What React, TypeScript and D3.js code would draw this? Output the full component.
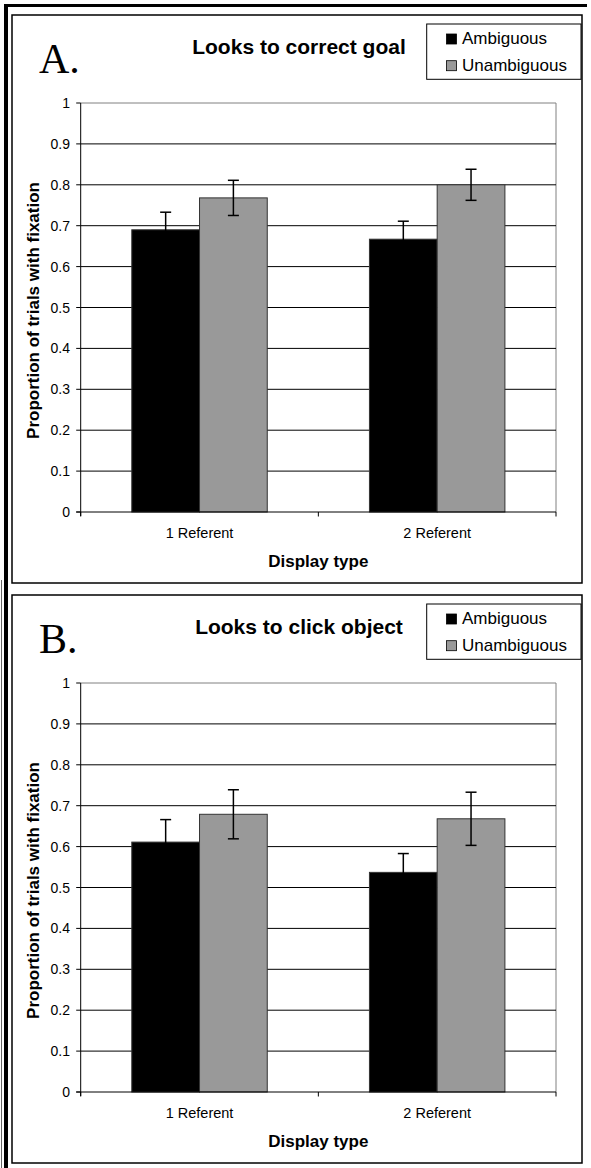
import React from "react";
import * as d3 from "d3";

const categories = ["1 Referent", "2 Referent"];
const seriesNames = ["Ambiguous", "Unambiguous"];
const seriesColors = ["#000000", "#999999"];
const yTicks = [0, 0.1, 0.2, 0.3, 0.4, 0.5, 0.6, 0.7, 0.8, 0.9, 1];

const panelLetters = ["A.", "B."];
const panelTitles = ["Looks to correct goal", "Looks to click object"];

const ambiguousA = [0.69, 0.667];
const unambiguousA = [0.768, 0.80];
const ambiguousErrA = [0.043, 0.044];
const unambiguousErrA = [0.043, 0.038];

const ambiguousB = [0.611, 0.537];
const unambiguousB = [0.679, 0.668];
const ambiguousErrB = [0.055, 0.046];
const unambiguousErrB = [0.06, 0.065];

const panels = [
  { values: [ambiguousA, unambiguousA], errors: [ambiguousErrA, unambiguousErrA] },
  { values: [ambiguousB, unambiguousB], errors: [ambiguousErrB, unambiguousErrB] },
];

const FONT = "'Liberation Sans', Arial, Helvetica, sans-serif";

function Panel({ idx, offsetY }: { idx: number; offsetY: number }) {
  const left = 80.7;
  const right = 556;
  const top = 103;
  const bottom = 512;
  const y = d3.scaleLinear().domain([0, 1]).range([bottom, top]);
  const x0 = d3
    .scaleBand<string>()
    .domain(categories)
    .range([left, right])
    .paddingInner(0.43)
    .paddingOuter(0.215);
  const x1 = d3
    .scaleBand<string>()
    .domain(seriesNames)
    .range([0, x0.bandwidth()])
    .padding(0);
  const data = panels[idx];
  const step = x0.step();

  return (
    <g transform={`translate(0,${offsetY})`}>
      <rect x={12} y={15} width={570} height={568} fill="#fff" stroke="#000" strokeWidth={1.5} />
      <text x={39} y={73} fontFamily="'Liberation Serif', 'Times New Roman', serif" fontSize={42}>
        {panelLetters[idx]}
      </text>
      <text x={299} y={54} textAnchor="middle" fontFamily={FONT} fontSize={21} fontWeight="bold">
        {panelTitles[idx]}
      </text>
      <rect x={426.7} y={24} width={154.3} height={55.3} fill="#fff" stroke="#000" strokeWidth={1} />
      {seriesNames.map((s, i) => (
        <g key={s}>
          <rect x={446.5} y={34 + i * 26.7} width={10} height={10} fill={seriesColors[i]} stroke="#000" strokeWidth={0.8} />
          <text x={462} y={44.3 + i * 26.7} fontFamily={FONT} fontSize={17}>
            {s}
          </text>
        </g>
      ))}
      <line x1={left} x2={right} y1={top} y2={top} stroke="#808080" strokeWidth={1} />
      <line x1={right} x2={right} y1={top} y2={bottom} stroke="#808080" strokeWidth={1} />
      {yTicks.slice(1, -1).map((t) => (
        <line key={t} x1={left} x2={right} y1={y(t)} y2={y(t)} stroke="#000" strokeWidth={1} />
      ))}
      {seriesNames.map((s, si) =>
        categories.map((c, ci) => (
          <rect
            key={s + c}
            x={(x0(c) as number) + (x1(s) as number)}
            y={y(data.values[si][ci])}
            width={x1.bandwidth()}
            height={bottom - y(data.values[si][ci])}
            fill={seriesColors[si]}
            stroke="#333"
            strokeWidth={1}
          />
        ))
      )}
      {seriesNames.map((s, si) =>
        categories.map((c, ci) => {
          const cx = (x0(c) as number) + (x1(s) as number) + x1.bandwidth() / 2;
          const v = data.values[si][ci];
          const e = data.errors[si][ci];
          const yt = y(v + e);
          const yb = y(v - e);
          return (
            <g key={"e" + s + c} stroke="#000" strokeWidth={1.5}>
              <line x1={cx} x2={cx} y1={yt} y2={yb} />
              <line x1={cx - 5.5} x2={cx + 5.5} y1={yt} y2={yt} />
              <line x1={cx - 5.5} x2={cx + 5.5} y1={yb} y2={yb} />
            </g>
          );
        })
      )}
      <line x1={left} x2={left} y1={top} y2={bottom + 4} stroke="#000" strokeWidth={1} />
      <line x1={left - 4.5} x2={right} y1={bottom} y2={bottom} stroke="#000" strokeWidth={1} />
      {yTicks.map((t) => (
        <g key={"t" + t}>
          <line x1={left - 4.5} x2={left} y1={y(t)} y2={y(t)} stroke="#000" strokeWidth={1} />
          <text x={70} y={y(t) + 5} textAnchor="end" fontFamily={FONT} fontSize={14}>
            {t === 0 ? "0" : t === 1 ? "1" : d3.format(".1f")(t)}
          </text>
        </g>
      ))}
      {[0, 1, 2].map((i) => (
        <line key={"xt" + i} x1={left + i * step} x2={left + i * step} y1={bottom} y2={bottom + 4.5} stroke="#000" strokeWidth={1} />
      ))}
      {categories.map((c) => (
        <text
          key={"cl" + c}
          x={(x0(c) as number) + x0.bandwidth() / 2}
          y={538}
          textAnchor="middle"
          fontFamily={FONT}
          fontSize={14.5}
        >
          {c}
        </text>
      ))}
      <text x={318.3} y={567} textAnchor="middle" fontFamily={FONT} fontSize={17} fontWeight="bold">
        Display type
      </text>
      <text
        transform={`translate(38.5,${(top + bottom) / 2 + 3}) rotate(-90)`}
        textAnchor="middle"
        fontFamily={FONT}
        fontSize={17}
        fontWeight="bold"
      >
        Proportion of trials with fixation
      </text>
    </g>
  );
}

export default function App() {
  return (
    <svg
      width={591}
      height={1168}
      style={{ position: "absolute", left: 0, top: 0, background: "#fff" }}
    >
      <rect x={0} y={0} width={591} height={1168} fill="#fff" />
      <line x1={6} x2={6} y1={4} y2={1168} stroke="#000" strokeWidth={4} />
      <line x1={4} x2={587} y1={5.5} y2={5.5} stroke="#000" strokeWidth={3} />
      <line x1={1.5} x2={1.5} y1={580} y2={1168} stroke="#666" strokeWidth={1} />
      <Panel idx={0} offsetY={0} />
      <Panel idx={1} offsetY={580} />
    </svg>
  );
}
